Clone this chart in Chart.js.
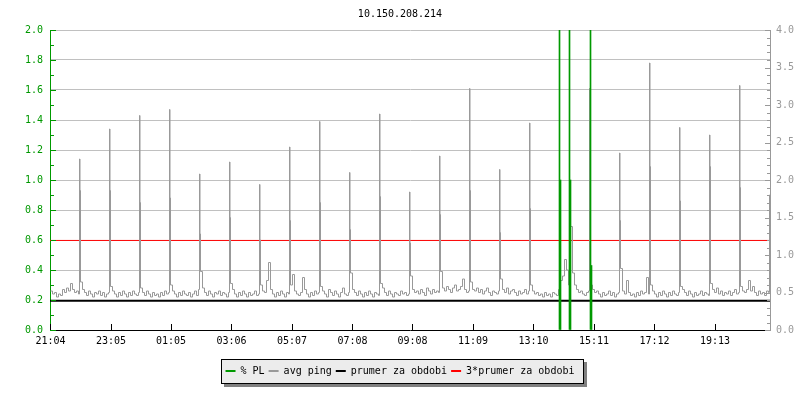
<!DOCTYPE html>
<html>
<head>
<meta charset="utf-8">
<script src="https://cdn.jsdelivr.net/npm/chart.js@4.4.0/dist/chart.umd.min.js"></script>
<style>
  html, body { margin: 0; padding: 0; background: #fff; }
  canvas { display: block; }
</style>
</head>
<body>
<canvas id="pingChart" width="800" height="400"></canvas>
<script>
// x axis: minutes after 21:04
const tickMinutes = [0, 121, 241, 362, 483, 604, 724, 845, 966, 1087, 1208, 1329];
const tickLabels = ["21:04", "23:05", "01:05", "03:06", "05:07", "07:08", "09:08", "11:09", "13:10", "15:11", "17:12", "19:13"];

// avg ping baseline, one sample every 4 minutes (one row = one hour)
const pingBase = [
  0.26, 0.24, 0.25, 0.22, 0.24, 0.23, 0.27, 0.25, 0.28, 0.26, 0.31, 0.27, 0.25, 0.26, 0.24,
  0.32, 0.27, 0.25, 0.23, 0.26, 0.24, 0.22, 0.25, 0.24, 0.26, 0.23, 0.25, 0.22, 0.24, 0.25,
  0.29, 0.26, 0.24, 0.22, 0.25, 0.23, 0.26, 0.24, 0.22, 0.25, 0.23, 0.26, 0.24, 0.23, 0.25,
  0.28, 0.25, 0.23, 0.26, 0.24, 0.22, 0.25, 0.23, 0.24, 0.22, 0.25, 0.23, 0.26, 0.24, 0.25,
  0.30, 0.26, 0.24, 0.22, 0.25, 0.23, 0.26, 0.24, 0.23, 0.25, 0.22, 0.24, 0.26, 0.23, 0.27,
  0.39, 0.28, 0.25, 0.23, 0.26, 0.24, 0.22, 0.25, 0.24, 0.26, 0.23, 0.25, 0.24, 0.22, 0.25,
  0.31, 0.27, 0.24, 0.22, 0.25, 0.23, 0.26, 0.24, 0.22, 0.25, 0.23, 0.24, 0.26, 0.23, 0.24,
  0.30, 0.26, 0.25, 0.33, 0.45, 0.27, 0.24, 0.22, 0.25, 0.23, 0.26, 0.24, 0.22, 0.25, 0.24,
  0.30, 0.37, 0.26, 0.24, 0.23, 0.25, 0.35, 0.27, 0.24, 0.22, 0.25, 0.23, 0.26, 0.24, 0.25,
  0.29, 0.26, 0.24, 0.22, 0.27, 0.25, 0.23, 0.26, 0.24, 0.22, 0.25, 0.28, 0.24, 0.23, 0.25,
  0.38, 0.27, 0.25, 0.23, 0.26, 0.24, 0.22, 0.25, 0.23, 0.26, 0.24, 0.22, 0.25, 0.24, 0.23,
  0.31, 0.28, 0.25, 0.23, 0.26, 0.24, 0.22, 0.25, 0.24, 0.23, 0.26, 0.24, 0.25, 0.23, 0.24,
  0.36, 0.27, 0.25, 0.26, 0.24, 0.27, 0.25, 0.23, 0.28, 0.26, 0.24, 0.27, 0.25, 0.26, 0.25,
  0.39, 0.28, 0.26, 0.29, 0.27, 0.25, 0.28, 0.30, 0.26, 0.27, 0.29, 0.34, 0.27, 0.25, 0.26,
  0.32, 0.27, 0.26, 0.28, 0.25, 0.27, 0.24, 0.26, 0.28, 0.25, 0.23, 0.26, 0.25, 0.24, 0.26,
  0.34, 0.27, 0.25, 0.28, 0.24, 0.26, 0.27, 0.25, 0.23, 0.26, 0.24, 0.25, 0.27, 0.24, 0.26,
  0.30, 0.26, 0.24, 0.25, 0.23, 0.24, 0.22, 0.25, 0.23, 0.24, 0.22, 0.25, 0.24, 0.23, 0.27,
  0.33, 0.36, 0.47, 0.40, 0.30, 0.69, 0.38, 0.30, 0.27, 0.25, 0.26, 0.24, 0.23, 0.25, 0.26,
  0.30, 0.27, 0.25, 0.26, 0.24, 0.22, 0.25, 0.23, 0.24, 0.26, 0.23, 0.25, 0.22, 0.24, 0.25,
  0.41, 0.26, 0.24, 0.33, 0.25, 0.23, 0.24, 0.22, 0.25, 0.23, 0.26, 0.24, 0.25, 0.35, 0.24,
  0.30, 0.26, 0.24, 0.22, 0.25, 0.23, 0.26, 0.24, 0.22, 0.25, 0.23, 0.26, 0.24, 0.23, 0.25,
  0.29, 0.27, 0.25, 0.23, 0.26, 0.24, 0.22, 0.25, 0.23, 0.24, 0.26, 0.23, 0.25, 0.24, 0.23,
  0.31, 0.27, 0.25, 0.28, 0.24, 0.26, 0.23, 0.25, 0.24, 0.26, 0.23, 0.25, 0.27, 0.24, 0.25,
  0.29, 0.26, 0.25, 0.27, 0.33, 0.26, 0.29, 0.25, 0.23, 0.26, 0.24, 0.25, 0.23, 0.26, 0.25
];

// hourly ping spikes: peak sample and the sample right after it
const spikeMinutes = [58, 118, 178, 238, 298, 358, 418, 478, 538, 598, 658, 718,
  778, 838, 898, 958, 1018, 1078, 1138, 1198, 1258, 1318, 1378, 1438];
const spikeTop = [1.14, 1.34, 1.43, 1.47, 1.04, 1.12, 0.97, 1.22, 1.39, 1.05, 1.44, 0.92,
  1.16, 1.61, 1.07, 1.38, 0.78, 1.61, 1.18, 1.78, 1.35, 1.30, 1.63, 0.90];
const spikeSecond = [0.93, 0.93, 0.85, 0.88, 0.64, 0.75, 0.60, 0.73, 0.85, 0.67, 0.89, 0.58,
  0.77, 0.93, 0.65, 0.81, 0.49, 1.26, 0.73, 1.09, 0.86, 1.09, 0.95, 0.41];

// packet loss samples
const plMinutes = [1018, 1020, 1038, 1040, 1080, 1082];
const plValues = [2.5, 1.0, 2.5, 1.0, 2.5, 0.43];

const periodAvg = 0.195;
const periodAvg3 = 0.597;

const FONT = "'DejaVu Sans Mono', monospace";
const GREEN = "#009900";
const GREY = "#999999";
const RED = "#ff0000";

// merge baseline and spikes into one series
const pingPoints = pingBase.map((v, i) => ({ x: i * 4, y: v }));
spikeMinutes.forEach((m, i) => {
  pingPoints.push({ x: m, y: spikeTop[i] });
  pingPoints.push({ x: m + 1, y: spikeSecond[i] });
});
pingPoints.sort((a, b) => a.x - b.x);

const plPoints = plMinutes.map((m, i) => ({ x: m, y: plValues[i] }));

// grey box with shadow behind the legend
const legendBox = {
  id: "legendBox",
  beforeDraw(chart) {
    const boxes = chart.legend && chart.legend.legendHitBoxes;
    if (!boxes || !boxes.length) return;
    const ctx = chart.ctx;
    const first = boxes[0];
    const last = boxes[boxes.length - 1];
    const x0 = Math.round(first.left - 5);
    const x1 = Math.round(last.left + last.width + 9);
    const y0 = Math.round(first.top - 7);
    const y1 = Math.round(first.top + first.height + 7);
    ctx.save();
    ctx.fillStyle = "#808080";
    ctx.fillRect(x0 + 3, y0 + 3, x1 - x0 + 1, y1 - y0 + 1);
    ctx.fillStyle = "#ececec";
    ctx.fillRect(x0, y0, x1 - x0, y1 - y0);
    ctx.strokeStyle = "#000";
    ctx.lineWidth = 1;
    ctx.strokeRect(x0 + 0.5, y0 + 0.5, x1 - x0, y1 - y0);
    ctx.restore();
  }
};

// rrd style tick marks pointing into the plot
const innerTicks = {
  id: "innerTicks",
  afterDatasetsDraw(chart) {
    const ctx = chart.ctx;
    const { left, right, bottom } = chart.chartArea;
    const yL = chart.scales.y;
    const yR = chart.scales.y2;
    const xs = chart.scales.x;
    ctx.save();
    ctx.lineWidth = 1;

    ctx.strokeStyle = GREEN;
    for (let i = 0; i <= 20; i++) {
      const py = Math.round(yL.getPixelForValue(i / 10)) + 0.5;
      const len = i % 2 === 0 ? 5 : 3;
      ctx.beginPath();
      ctx.moveTo(left + 1, py);
      ctx.lineTo(left + 1 + len, py);
      ctx.stroke();
    }

    ctx.strokeStyle = GREY;
    for (let i = 0; i <= 40; i++) {
      const py = Math.round(yR.getPixelForValue(i / 10)) + 0.5;
      const len = i % 5 === 0 ? 5 : 3;
      ctx.beginPath();
      ctx.moveTo(right, py);
      ctx.lineTo(right - len, py);
      ctx.stroke();
    }

    ctx.strokeStyle = "#000";
    tickMinutes.forEach(m => {
      const px = Math.floor(xs.getPixelForValue(m)) + 0.5;
      ctx.beginPath();
      ctx.moveTo(px, bottom);
      ctx.lineTo(px, bottom - 6);
      ctx.stroke();
    });
    ctx.restore();
  }
};

new Chart(document.getElementById("pingChart"), {
  type: "line",
  data: {
    datasets: [
      {
        type: "bar",
        label: "% PL",
        data: plPoints,
        backgroundColor: GREEN,
        borderColor: GREEN,
        borderWidth: 0,
        barThickness: 1,
        xAxisID: "x",
        yAxisID: "y",
        order: 0
      },
      {
        label: "avg ping",
        data: pingPoints,
        borderColor: GREY,
        backgroundColor: GREY,
        borderWidth: 1,
        pointRadius: 0,
        stepped: true,
        xAxisID: "x",
        yAxisID: "y",
        order: 1
      },
      {
        label: "prumer za obdobi",
        data: [{ x: -1, y: periodAvg }, { x: 1439, y: periodAvg }],
        borderColor: "#000",
        backgroundColor: "#000",
        borderWidth: 2,
        pointRadius: 0,
        xAxisID: "x",
        yAxisID: "y",
        order: 2
      },
      {
        label: "3*prumer za obdobi",
        data: [{ x: -1, y: periodAvg3 }, { x: 1439, y: periodAvg3 }],
        borderColor: RED,
        backgroundColor: RED,
        borderWidth: 1,
        pointRadius: 0,
        xAxisID: "x",
        yAxisID: "y",
        order: 3
      }
    ]
  },
  options: {
    responsive: false,
    animation: false,
    events: [],
    layout: { padding: { left: 0, right: 0, top: 0, bottom: 14 } },
    plugins: {
      title: {
        display: true,
        text: "10.150.208.214",
        color: "#000",
        font: { family: FONT, size: 10, weight: "normal", lineHeight: 1.2 },
        padding: { top: 8, bottom: 10 }
      },
      legend: {
        position: "bottom",
        labels: {
          font: { family: FONT, size: 10 },
          color: "#000",
          boxWidth: 10,
          boxHeight: 2,
          padding: 4,
          generateLabels: chart =>
            Chart.defaults.plugins.legend.labels.generateLabels(chart).map(l =>
              Object.assign(l, { lineWidth: 0, fillStyle: l.strokeStyle }))
        }
      },
      tooltip: { enabled: false }
    },
    scales: {
      x: {
        type: "linear",
        min: -1,
        max: 1439,
        offset: false,
        grid: { display: false, drawTicks: false },
        border: { color: "#000", width: 1 },
        afterBuildTicks: s => { s.ticks = tickMinutes.map(v => ({ value: v })); },
        afterFit: s => { s.height = 32; },
        ticks: {
          callback: (v, i) => tickLabels[i],
          autoSkip: false,
          maxRotation: 0,
          padding: 5,
          color: "#000",
          font: { family: FONT, size: 10 }
        }
      },
      y: {
        position: "left",
        min: 0,
        max: 2,
        grid: {
          color: c => (c.tick && c.tick.value === 0 ? "rgba(0,0,0,0)" : "#c0c0c0"),
          drawTicks: false
        },
        border: { color: GREEN, width: 1 },
        afterFit: s => { s.width = 50; },
        ticks: {
          stepSize: 0.2,
          callback: v => v.toFixed(1),
          padding: 7,
          color: GREEN,
          font: { family: FONT, size: 10 }
        }
      },
      y2: {
        position: "right",
        min: 0,
        max: 4,
        grid: { display: false, drawTicks: false },
        border: { color: GREY, width: 1 },
        afterFit: s => { s.width = 30; },
        ticks: {
          stepSize: 0.5,
          callback: v => v.toFixed(1),
          padding: 6,
          color: GREY,
          font: { family: FONT, size: 10 }
        }
      }
    }
  },
  plugins: [legendBox, innerTicks]
});
</script>
</body>
</html>
